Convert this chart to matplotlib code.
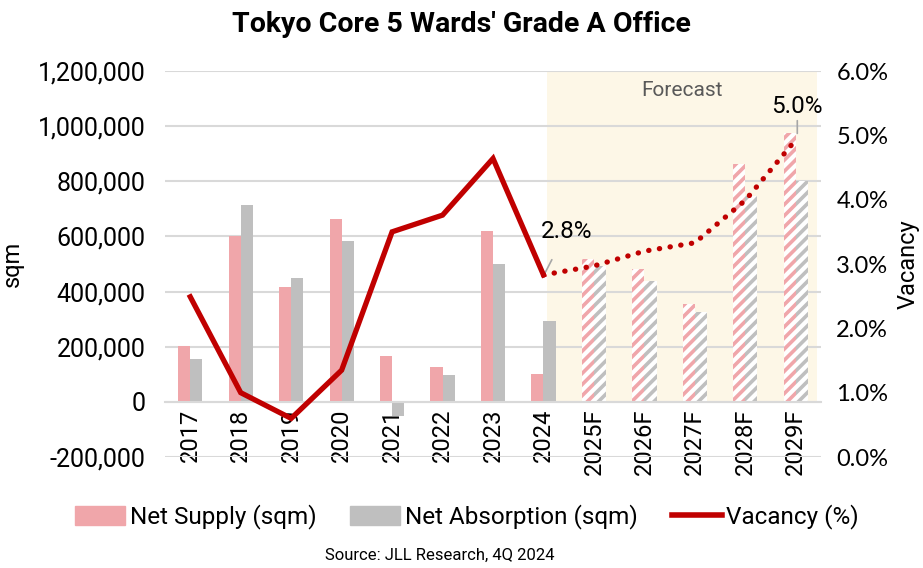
"""Tokyo Core 5 Wards Grade A office: supply, absorption and vacancy."""
import matplotlib
matplotlib.use("Agg")
import matplotlib.pyplot as plt
import numpy as np
from matplotlib.patches import Patch
from matplotlib.lines import Line2D

years = ["2017", "2018", "2019", "2020", "2021", "2022", "2023", "2024",
         "2025F", "2026F", "2027F", "2028F", "2029F"]
net_supply = [203000, 600000, 416000, 663000, 167000, 127000, 620000, 101000,
              517000, 481000, 354000, 861000, 976000]
net_absorption = [156000, 714000, 450000, 583000, -50000, 98000, 500000, 293000,
                  493000, 438000, 327000, 746000, 800000]
vacancy = [2.49, 1.00, 0.60, 1.35, 3.50, 3.76, 4.64, 2.83,
           2.97, 3.20, 3.33, 3.99, 4.93]
n_actual = 8  # 2017-2024 are actuals, rest forecast

PINK = "#F0A6AA"
GREY = "#BFBFBF"
RED = "#C00000"
GRID = "#D9D9D9"

plt.rcParams["font.family"] = ["Roboto", "DejaVu Sans"]
plt.rcParams["hatch.linewidth"] = 2.6

fig = plt.figure(figsize=(9.23, 5.68), dpi=100)
ax = fig.add_axes([0.1788, 0.1954, 0.7107, 0.6796])
ax2 = ax.twinx()

x = np.arange(len(years))
w = 0.24

# forecast shading
ax.axvspan(7.06, 12.42, ymin=0.2 / 1.4, ymax=1.0, color="#FDF7E7", zorder=0, lw=0)
ax.text(9.75, 1130000, "Forecast", ha="center", va="center", fontsize=15, color="#595959")

for i in range(len(years)):
    if i < n_actual:
        ax.bar(x[i] - w / 2, net_supply[i], w, color=PINK, zorder=2)
        ax.bar(x[i] + w / 2, net_absorption[i], w, color=GREY, zorder=2)
    else:
        ax.bar(x[i] - w / 2, net_supply[i], w, facecolor="white", edgecolor=PINK,
               hatch="///", lw=0, zorder=2)
        ax.bar(x[i] + w / 2, net_absorption[i], w, facecolor="white", edgecolor=GREY,
               hatch="///", lw=0, zorder=2)

ax.set_xlim(-0.5, 12.5)
ax.set_ylim(-200000, 1200000)
ax.set_yticks(np.arange(-200000, 1200001, 200000))
ax.yaxis.set_major_formatter(plt.FuncFormatter(lambda v, p: f"{v:,.0f}"))
ax.grid(axis="y", color=GRID, lw=1.5, zorder=0)
ax.set_axisbelow(True)
for s in ("top", "left", "right"):
    ax.spines[s].set_visible(False)
ax.spines["bottom"].set_position(("data", 0))
ax.spines["bottom"].set_color(GRID)
ax.spines["bottom"].set_linewidth(1.5)
ax.set_xticks(x)
ax.set_xticklabels(years, rotation=90, fontsize=17)
ax.tick_params(axis="x", length=0, pad=5)
ax.tick_params(axis="y", length=0, pad=14, labelsize=18)
ax.set_ylabel("sqm", fontsize=17, labelpad=10)

# vacancy on right axis
ax2.plot(x[:n_actual], vacancy[:n_actual], color=RED, lw=3.8, zorder=5,
         solid_joinstyle="miter")
ax2.plot(x[n_actual - 1:], vacancy[n_actual - 1:], color=RED, lw=3.8,
         linestyle=(0, (0.05, 2.0)), dash_capstyle="round", zorder=5)
ax2.set_ylim(0, 6)
ax2.set_yticks(np.arange(0, 7, 1))
ax2.yaxis.set_major_formatter(plt.FuncFormatter(lambda v, p: f"{v:.1f}%"))
ax2.tick_params(axis="y", length=0, pad=11, labelsize=17)
for lab in ax2.get_yticklabels():
    lab.set_family(["Lato", "DejaVu Sans"])
for s in ("top", "left", "right", "bottom"):
    ax2.spines[s].set_visible(False)
ax2.set_ylabel("Vacancy", fontsize=17, labelpad=6)
ax.set_zorder(ax2.get_zorder() - 1)
ax.patch.set_visible(False)

ax2.annotate("2.8%", xy=(x[7] + 0.03, vacancy[7] + 0.03), xytext=(x[7] + 0.45, 3.5),
             fontsize=17.5, ha="center", va="center",
             arrowprops=dict(arrowstyle="-", color="#A6A6A6", lw=1.2, shrinkA=11, shrinkB=0))
ax2.annotate("5.0%", xy=(x[12] + 0.03, vacancy[12] + 0.1), xytext=(x[12] + 0.03, 5.45),
             fontsize=17.5, ha="center", va="center",
             arrowprops=dict(arrowstyle="-", color="#A6A6A6", lw=1.2, shrinkA=11, shrinkB=0))

fig.suptitle("Tokyo Core 5 Wards' Grade A Office", x=0.5, y=0.98, fontsize=20.5,
             fontweight="bold")

handles = [Patch(color=PINK), Patch(color=GREY), Line2D([], [], color=RED, lw=4)]
labels = ["Net Supply (sqm)", "Net Absorption (sqm)", "Vacancy (%)"]
fig.legend(handles, labels, loc="center", bbox_to_anchor=(0.506, 0.09), ncol=3,
           frameon=False, fontsize=17.5, handlelength=2.05, handleheight=0.85,
           handletextpad=0.2, columnspacing=1.4)

fig.text(0.476, 0.023, "Source: JLL Research, 4Q 2024", ha="center", va="center",
         fontsize=12)

fig.savefig("out.png", dpi=100)
